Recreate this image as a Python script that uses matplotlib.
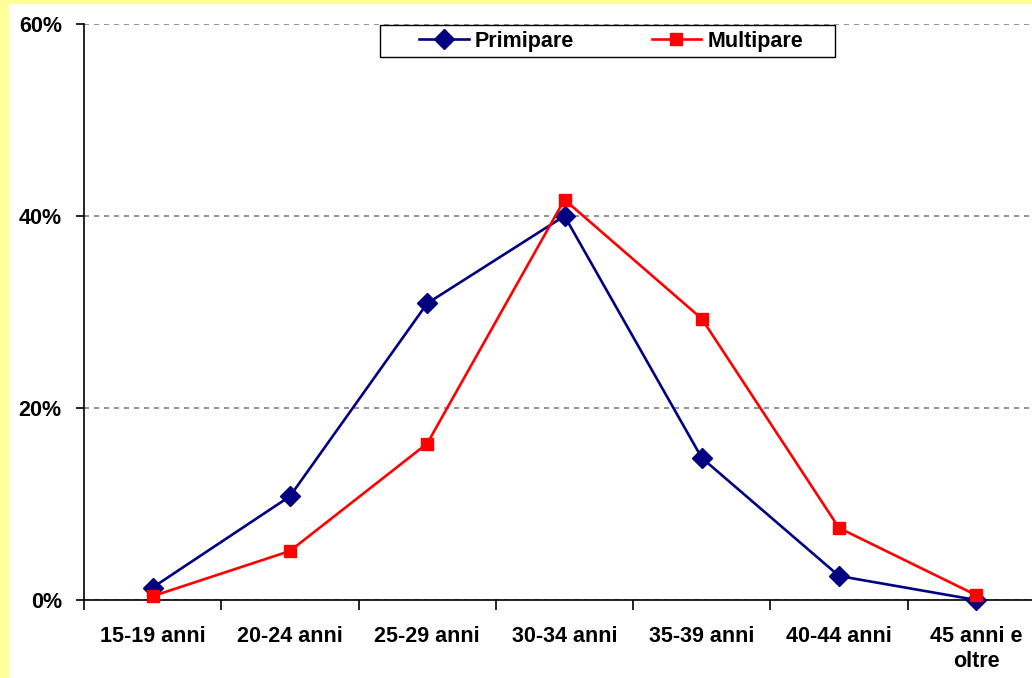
import matplotlib.pyplot as plt
import matplotlib.patches as mpatches
from matplotlib.ticker import FuncFormatter

# -- Data --
categories = ["15-19 anni", "20-24 anni", "25-29 anni", "30-34 anni",
              "35-39 anni", "40-44 anni", "45 anni e\noltre"]
primipare = [1.3, 10.8, 30.9, 40.0, 14.8, 2.5, 0.0]
multipare = [0.4, 5.1, 16.3, 41.7, 29.3, 7.5, 0.5]

plt.rcParams['font.family'] = ['Liberation Sans', 'DejaVu Sans']
plt.rcParams['font.weight'] = 'bold'

W, H = 1032, 678
fig = plt.figure(figsize=(W / 100, H / 100), dpi=100)
fig.patch.set_facecolor('white')

# yellow border left and top
fig.add_artist(mpatches.Rectangle((0, 0), 8 / W, 1, transform=fig.transFigure,
                                  color='#FFFF99', zorder=0))
fig.add_artist(mpatches.Rectangle((0, 1 - 3 / H), 1, 3 / H, transform=fig.transFigure,
                                  color='#FFFF99', zorder=0))

ax = fig.add_axes([84 / W, 78 / H, 961 / W, 576 / H])
x = list(range(len(categories)))

ax.plot(x, primipare, color='#000080', lw=1.9, marker='D', markersize=10,
        label='Primipare', clip_on=False, zorder=3)
ax.plot(x, multipare, color='#FF0000', lw=1.9, marker='s', markersize=8,
        label='Multipare', clip_on=False, zorder=4)

ax.set_xlim(-0.5, len(categories) - 0.5)
ax.set_ylim(0, 60)
ax.set_yticks([0, 20, 40, 60])
ax.yaxis.set_major_formatter(FuncFormatter(lambda v, p: f"{v:.0f}%"))

ax.set_xticks([i - 0.5 for i in range(len(categories) + 1)])
ax.set_xticklabels([])
ax.set_xticks(x, minor=True)
ax.set_xticklabels(categories, minor=True, fontsize=15.5, fontweight='bold')
ax.tick_params(axis='x', which='minor', length=0, pad=19)
ax.tick_params(axis='x', which='major', length=7, width=1.2, direction='out')
ax.tick_params(axis='y', length=6, width=1.2, labelsize=15.5, pad=10)
for lab in ax.get_yticklabels():
    lab.set_fontweight('bold')

ax.grid(axis='y', color='#808080', linestyle=(0, (3, 3)), lw=1.2)
ax.spines['top'].set_visible(False)
ax.spines['right'].set_visible(False)
for s in ['left', 'bottom']:
    ax.spines[s].set_color('black')
    ax.spines[s].set_linewidth(1.2)

# legend box (Excel style, wide padding)
fig.add_artist(mpatches.Rectangle((380 / W, 1 - 57 / H), 455 / W, 32 / H,
                                  transform=fig.transFigure, facecolor='white',
                                  edgecolor='black', lw=1.0, zorder=5))
leg = fig.legend(loc='center left', bbox_to_anchor=(419 / W, 1 - 41 / H),
                 ncol=2, frameon=False, prop={'weight': 'bold', 'size': 15.5},
                 columnspacing=3.6, handlelength=2.3, borderpad=0, borderaxespad=0,
                 handletextpad=0.3)
leg.set_zorder(6)

fig.savefig("out.png", dpi=100)
